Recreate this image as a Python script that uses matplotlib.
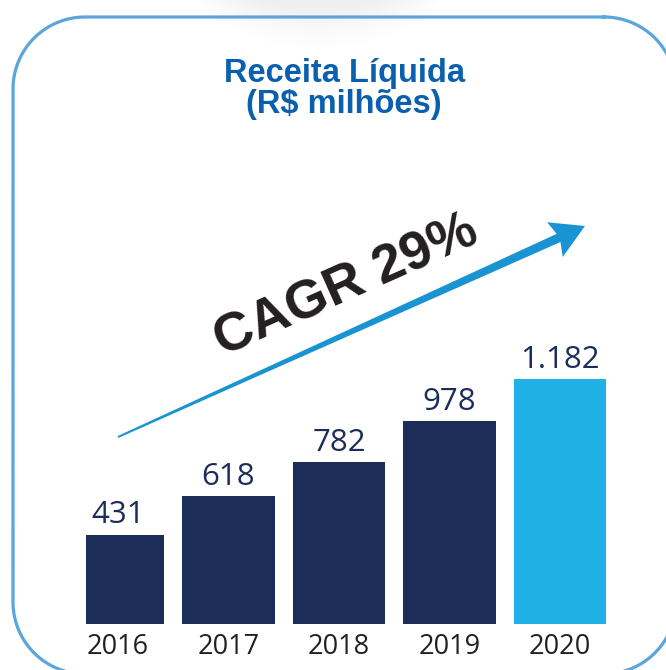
import matplotlib.pyplot as plt
import numpy as np
from matplotlib.patches import Polygon

years = ["2016", "2017", "2018", "2019", "2020"]
receita = [431, 618, 782, 978, 1182]
value_labels = ["431", "618", "782", "978", "1.182"]
bar_colors = ["#1c2d5a", "#1c2d5a", "#1c2d5a", "#1c2d5a", "#1fb0e6"]
title_lines = ["Receita Líquida", "(R$ milhões)"]
cagr_text = "CAGR 29%"

W, H = 666, 670
fig = plt.figure(figsize=(W / 100, H / 100), dpi=100)
fig.patch.set_facecolor("white")


def fx(px):
    return px / W


def fy(py):
    return 1 - py / H


# background layer: soft grey glow at the top and the rounded frame
bg = fig.add_axes([0, 0, 1, 1], zorder=0)
xx, yy = np.meshgrid(np.arange(W), np.arange(H))
d = np.sqrt((xx - 318) ** 2 + (yy + 120) ** 2)
glow = np.clip((172 - d) / 40, 0, 1) * np.clip(1 - yy / 75, 0, 1)
rgba = np.zeros((H, W, 4))
rgba[..., :3] = 0.6
rgba[..., 3] = glow * 0.16
bg.imshow(rgba, extent=(0, W, H, 0), interpolation="bilinear", zorder=0)
bg.set_aspect("auto")
bg.set_xlim(0, W)
bg.set_ylim(H, 0)
bg.axis("off")

# rounded frame (left 13, top 17, right 676, bottom 674, corner radius 72)
r = 72
x0, y0, x1, y1 = 13, 17, 676, 674
corners = [(x1 - r, y0 + r, -90, 0), (x1 - r, y1 - r, 0, 90),
           (x0 + r, y1 - r, 90, 180), (x0 + r, y0 + r, 180, 270)]
fx_pts, fy_pts = [], []
for cx, cy, a0, a1 in corners:
    t = np.radians(np.linspace(a0, a1, 40))
    fx_pts.extend(cx + r * np.cos(t))
    fy_pts.extend(cy + r * np.sin(t))
fx_pts.append(fx_pts[0])
fy_pts.append(fy_pts[0])
bg.plot(fx_pts, fy_pts, color="#5aa5dc", linewidth=2.3, zorder=2, clip_on=False)

# bars
ax = fig.add_axes([fx(86), fy(624), fx(666) - fx(86), fy(140) - fy(624)], zorder=1)
ax.patch.set_alpha(0)
x = np.arange(len(years))
ax.bar(x, receita, width=0.833, color=bar_colors, zorder=3)
ax.set_xlim(-32 / 110.5, 548 / 110.5)
ax.set_ylim(0, 484 / 0.2075)
for s in ax.spines.values():
    s.set_visible(False)
ax.set_yticks([])
ax.set_xticks(x, years)
ax.tick_params(axis="x", length=0, pad=6.5, labelsize=19.5, labelcolor="#231f20")
for lab in ax.get_xticklabels():
    lab.set_fontfamily("Open Sans")

for xi, v, lab in zip(x, receita, value_labels):
    ax.annotate(lab, (xi, v), xytext=(0, 8), textcoords="offset points",
                ha="center", va="baseline", fontsize=22.5,
                family="Open Sans", color="#1c2d5a")

# overlay: growth arrow
ov = fig.add_axes([0, 0, 1, 1], zorder=4)
ov.set_xlim(0, W)
ov.set_ylim(H, 0)
ov.axis("off")
tail = np.array([118.0, 437.0])
tip = np.array([585.0, 226.0])
u = (tip - tail) / np.linalg.norm(tip - tail)
n = np.array([u[1], -u[0]])
head_len, head_w = 29.0, 38.0
base = tip - u * head_len
shaft = Polygon([tail + n * 1.0, base + n * 4.5, base + n * head_w / 2 - u * 4,
                 tip, base - n * head_w / 2 - u * 4, base - n * 4.5, tail - n * 1.0],
                closed=True, facecolor="#1a93d3", edgecolor="none")
ov.add_patch(shaft)

# texts
fig.text(fx(345), fy(82), title_lines[0], ha="center", va="baseline",
         fontsize=23.5, fontweight="bold", family="Liberation Sans", color="#0a5fae")
fig.text(fx(344), fy(113), title_lines[1], ha="center", va="baseline",
         fontsize=23.5, fontweight="bold", family="Liberation Sans", color="#0a5fae")
fig.text(fx(346), fy(286), cagr_text, ha="center", va="center", rotation=24,
         rotation_mode="anchor", fontsize=39, fontweight="bold",
         family="Liberation Sans", color="#231f20", zorder=5)

fig.savefig("out.png", dpi=100)
